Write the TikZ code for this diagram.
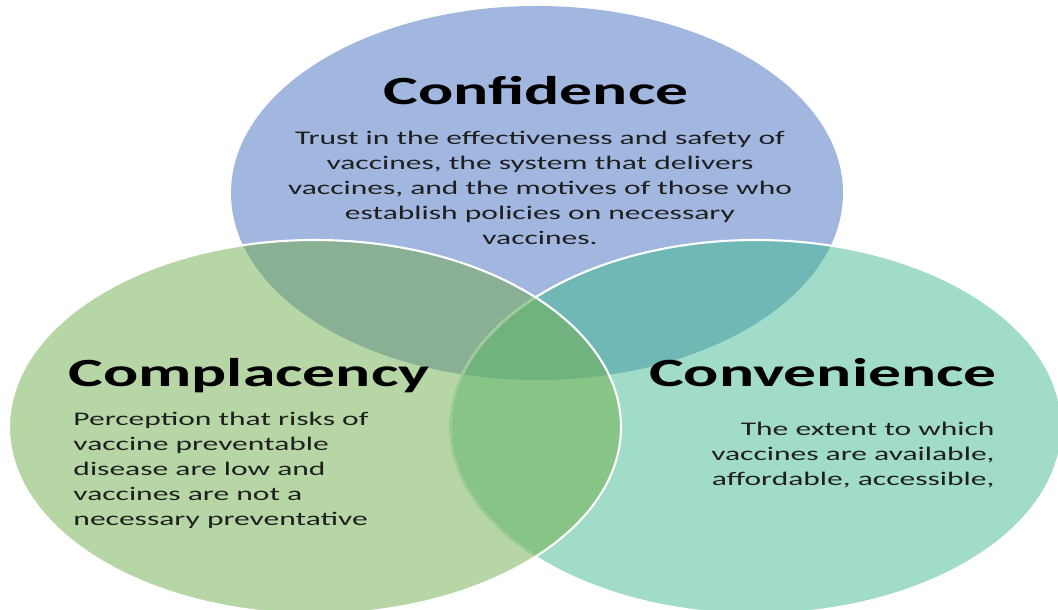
\documentclass[tikz,border=0pt]{standalone}
\usepackage{fontspec}
\setmainfont{Carlito}
\usepackage{tikz}

\definecolor{confblue}{HTML}{A1B7E0}
\definecolor{complgreen}{HTML}{B7D6A6}
\definecolor{convteal}{HTML}{A0DCC8}
\definecolor{bluegreen}{HTML}{89B094}
\definecolor{blueteal}{HTML}{6FB8B6}
\definecolor{greenteal}{HTML}{89C487}
\definecolor{allthree}{HTML}{70B37E}

% the three circles, drawn as ellipses because the whole figure is stretched sideways
\newcommand{\confcircle}{(537,417) ellipse [x radius=306, y radius=187]}
\newcommand{\complcircle}{(315,183) ellipse [x radius=306, y radius=187]}
\newcommand{\convcircle}{(756,183) ellipse [x radius=306, y radius=187]}

\begin{document}
\begin{tikzpicture}[
    x=0.025cm, y=0.025cm,
    stretch/.style={xscale=1.636},
    title/.style={stretch, font=\fontsize{28.5}{34}\selectfont\bfseries, inner sep=0, anchor=base},
    body/.style={stretch, font=\fontsize{13.7}{17.8}\selectfont, inner sep=0, text=black!88}
]
    \useasboundingbox (0,0) rectangle (1058,610);

    % Plain fills first
    \fill[confblue] \confcircle;
    \fill[convteal] \convcircle;
    \fill[complgreen] \complcircle;

    % Overlaps, painted through clips
    \begin{scope}
        \clip \confcircle;
        \fill[bluegreen] \complcircle;
        \fill[blueteal] \convcircle;
    \end{scope}
    \begin{scope}
        \clip \complcircle;
        \fill[greenteal] \convcircle;
    \end{scope}
    \begin{scope}
        \clip \confcircle;
        \clip \complcircle;
        \fill[allthree] \convcircle;
    \end{scope}

    % White rims (the one under the green circle only shows through faintly)
    \draw[white, line width=1.5pt] \convcircle;
    \begin{scope}
        \clip \complcircle;
        \draw[greenteal!60!complgreen, line width=1.6pt] \convcircle;
    \end{scope}
    \draw[white, line width=1.5pt] \complcircle;

    % Confidence
    \node[title] (conftitle) at (536,505) {Confidence};
    \node[body, align=center, anchor=north] (conftext) at (540,479)
        {Trust in the effectiveness and safety of\\
         vaccines, the system that delivers\\
         vaccines, and the motives of those who\\
         establish policies on necessary\\
         vaccines.};

    % Complacency
    \node[title] (compltitle) at (249,223) {Complacency};
    \node[body, align=left, anchor=north west] (compltext) at (73,198)
        {Perception that risks of\\
         vaccine preventable\\
         disease are low and\\
         vaccines are not a\\
         necessary preventative};

    % Convenience
    \node[title] (convtitle) at (823,223) {Convenience};
    \node[body, align=right, anchor=north east] (convtext) at (995,188)
        {The extent to which\\
         vaccines are available,\\
         affordable, accessible,};

\end{tikzpicture}
\end{document}
